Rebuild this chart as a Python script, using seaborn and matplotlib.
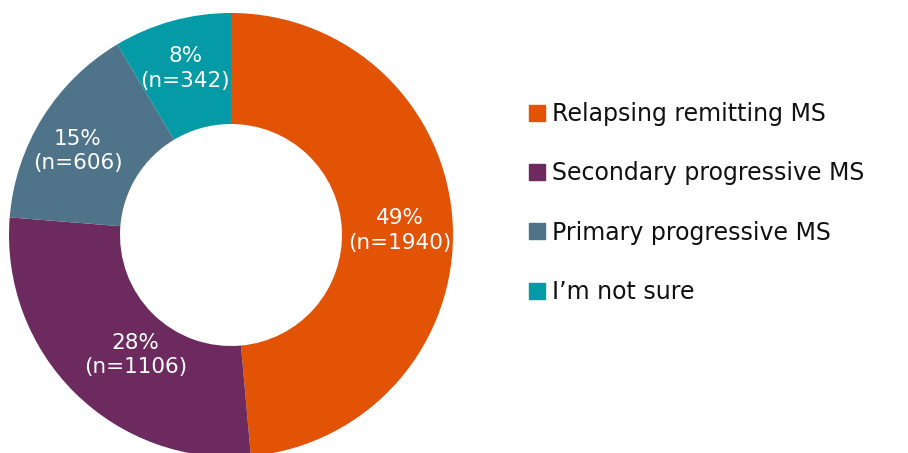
import numpy as np
import matplotlib
matplotlib.use("Agg")
import matplotlib.pyplot as plt
import seaborn as sns
from matplotlib.lines import Line2D

categories = ["Relapsing remitting MS", "Secondary progressive MS",
              "Primary progressive MS", "I\u2019m not sure"]
counts = [1940, 1106, 606, 342]
percents = [49, 28, 15, 8]
colors = ["#E25306", "#6C2A5F", "#4F7388", "#049BA6"]

sns.set_theme(style="white")
plt.rcParams['font.family'] = ['DejaVu Sans']

W, H = 908, 453
fig = plt.figure(figsize=(W / 100, H / 100), dpi=100)
cx, cy, R = 231, 235, 222
ax = fig.add_axes([(cx - R) / W, (H - cy - R) / H, 2 * R / W, 2 * R / H])
wedges, _ = ax.pie(counts, colors=colors, startangle=90, counterclock=False,
                   radius=1, wedgeprops=dict(width=0.5, edgecolor='none'))
ax.set_xlim(-1, 1)
ax.set_ylim(-1, 1)
ax.set_axis_off()

# small label nudges in pixels (x right, y down), like the original placement
nudges = [(0, 3), (23, 0), (-10, 5), (-1, -4)]
for w, p, n, (dx, dy) in zip(wedges, percents, counts, nudges):
    th = np.deg2rad((w.theta1 + w.theta2) / 2)
    r = 0.76
    ax.annotate(f"{p}%\n(n={n})", xy=(r * np.cos(th), r * np.sin(th)),
                xytext=(dx, -dy), textcoords='offset pixels',
                ha='center', va='center', color='white', fontsize=15.5,
                linespacing=1.3)

handles = [Line2D([], [], marker='s', ls='none', markersize=11, color=c)
           for c in colors]
fig.legend(handles, categories, loc='center left',
           bbox_to_anchor=(527.6 / W, 1 - 203 / H), frameon=False,
           fontsize=17, handlelength=0.8, handletextpad=0.22,
           labelspacing=1.5, borderpad=0, borderaxespad=0,
           labelcolor='#111111')

fig.savefig("out.png", dpi=100, facecolor='white')
